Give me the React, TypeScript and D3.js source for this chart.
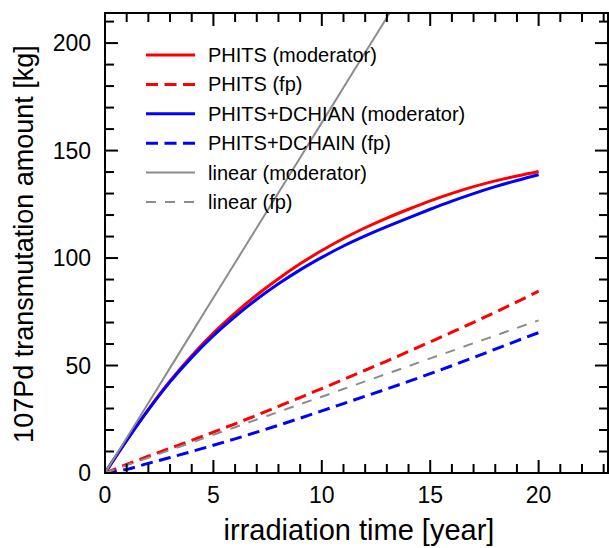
import React from "react";
import * as d3 from "d3";

const years = [0, 1, 2, 3, 4, 5, 6, 7, 8, 9, 10, 11, 12, 13, 14, 15, 16, 17, 18, 19, 20];
const phitsModerator = [0, 15.2, 29.6, 42.8, 54.6, 65.1, 74.4, 82.8, 90.4, 97.3, 103.5, 109.1, 114.1, 118.6, 122.7, 126.6, 130.1, 133.2, 135.9, 138.2, 140.3];
const phitsFp = [0, 4, 7.8, 11.5, 15.2, 19, 22.9, 26.9, 31, 35.1, 39.3, 43.5, 47.8, 52.1, 56.5, 61, 65.5, 70.1, 74.8, 79.6, 84.6];
const dchainModerator = [0, 15.2, 29.4, 42.4, 53.8, 63.9, 72.8, 80.8, 88.0, 94.5, 100.3, 105.6, 110.3, 114.6, 118.7, 122.7, 126.5, 130.0, 133.2, 136.1, 138.8];
const dchainFp = [0, 1.7, 4.5, 7.2, 10, 12.9, 15.9, 19, 22.2, 25.5, 28.9, 32.3, 35.7, 39.1, 42.6, 46.2, 49.9, 53.7, 57.6, 61.5, 65.3];
const linearModeratorYears = [0, 1, 2, 3, 4, 5, 6, 7, 8, 9, 10, 11, 12, 13, 14];
const linearModerator = [0, 16.3, 32.6, 48.9, 65.2, 81.5, 97.8, 114.1, 130.4, 146.7, 163, 179.3, 195.6, 211.9, 228.2];
const linearFp = [0, 3.6, 7.1, 10.7, 14.2, 17.8, 21.3, 24.9, 28.4, 32.0, 35.5, 39.1, 42.6, 46.2, 49.7, 53.3, 56.8, 60.4, 63.9, 67.5, 71.0];

const xTickLabels = ["0", "5", "10", "15", "20"];
const xMajorTicks = [0, 5, 10, 15, 20];
const yTickLabels = ["0", "50", "100", "150", "200"];
const yMajorTicks = [0, 50, 100, 150, 200];
const legendLabels = [
  "PHITS (moderator)",
  "PHITS (fp)",
  "PHITS+DCHIAN (moderator)",
  "PHITS+DCHAIN (fp)",
  "linear (moderator)",
  "linear (fp)",
];

const W = 609;
const H = 548;
const left = 105;
const right = 608;
const top = 13;
const bottom = 473;
const FONT = "'Liberation Sans', Arial, Helvetica, sans-serif";

export default function App() {
  const x = d3.scaleLinear().domain([0, 23.2]).range([left, right]);
  const y = d3.scaleLinear().domain([0, 214]).range([bottom, top]);

  const series = [
    { label: legendLabels[0], xs: years, ys: phitsModerator, color: "#ff0000", width: 3, dash: "" },
    { label: legendLabels[1], xs: years, ys: phitsFp, color: "#ff0000", width: 3, dash: "12 6.5" },
    { label: legendLabels[2], xs: years, ys: dchainModerator, color: "#0000ff", width: 3, dash: "" },
    { label: legendLabels[3], xs: years, ys: dchainFp, color: "#0000ff", width: 3, dash: "12 6.5" },
    { label: legendLabels[4], xs: linearModeratorYears, ys: linearModerator, color: "#8c8c8c", width: 2, dash: "" },
    { label: legendLabels[5], xs: years, ys: linearFp, color: "#8c8c8c", width: 2, dash: "10 9" },
  ];

  const line = d3
    .line<[number, number]>()
    .x((d) => x(d[0]))
    .y((d) => y(d[1]))
    .curve(d3.curveMonotoneX);

  const xMinor = d3.range(0, 24, 1);
  const yMinor = d3.range(0, 214, 10);
  const majLen = 13;
  const minLen = 9;

  return (
    <svg
      width={W}
      height={H}
      viewBox={`0 0 ${W} ${H}`}
      style={{ position: "absolute", left: 0, top: 0, background: "#fff" }}
      fontFamily={FONT}
    >
      <defs>
        <clipPath id="plotclip">
          <rect x={left} y={top} width={right - left} height={bottom - top} />
        </clipPath>
      </defs>
      <rect x={0} y={0} width={W} height={H} fill="#fff" />

      <g clipPath="url(#plotclip)">
        {series.map((s, i) => (
          <path
            key={i}
            d={line(s.xs.map((t, j) => [t, s.ys[j]] as [number, number])) || ""}
            fill="none"
            stroke={s.color}
            strokeWidth={s.width}
            strokeDasharray={s.dash || undefined}
            strokeLinejoin="round"
          />
        ))}
      </g>

      {/* ticks */}
      <g stroke="#000" strokeWidth={2}>
        {xMinor.map((t) => {
          const len = xMajorTicks.includes(t) ? majLen : minLen;
          return (
            <g key={"x" + t}>
              <line x1={x(t)} x2={x(t)} y1={bottom} y2={bottom - len} />
              <line x1={x(t)} x2={x(t)} y1={top} y2={top + len} />
            </g>
          );
        })}
        {yMinor.map((v) => {
          const len = yMajorTicks.includes(v) ? majLen : minLen;
          return (
            <g key={"y" + v}>
              <line x1={left} x2={left + len} y1={y(v)} y2={y(v)} />
              <line x1={right} x2={right - len} y1={y(v)} y2={y(v)} />
            </g>
          );
        })}
      </g>

      {/* frame */}
      <rect
        x={left}
        y={top}
        width={right - left}
        height={bottom - top}
        fill="none"
        stroke="#000"
        strokeWidth={2}
      />

      {/* tick labels */}
      <g fontSize={23} fill="#000">
        {xMajorTicks.map((t, i) => (
          <text key={"xl" + t} x={x(t)} y={503} textAnchor="middle">
            {xTickLabels[i]}
          </text>
        ))}
        {yMajorTicks.map((v, i) => (
          <text key={"yl" + v} x={91} y={y(v) + 8} textAnchor="end">
            {yTickLabels[i]}
          </text>
        ))}
      </g>

      {/* axis titles */}
      <text x={359} y={540} fontSize={29} textAnchor="middle" fill="#000">
        irradiation time [year]
      </text>
      <text
        transform={`translate(33, 244) rotate(-90)`}
        fontSize={27}
        textAnchor="middle"
        fill="#000"
      >
        107Pd transmutation amount [kg]
      </text>

      {/* legend */}
      <g>
        {series.map((s, i) => {
          const ly = 55 + i * 29.4;
          return (
            <g key={"lg" + i}>
              <line
                x1={146}
                x2={195}
                y1={ly}
                y2={ly}
                stroke={s.color}
                strokeWidth={s.width}
                strokeDasharray={s.dash || undefined}
              />
              <text x={208} y={ly + 7} fontSize={20} fill="#000">
                {s.label}
              </text>
            </g>
          );
        })}
      </g>
    </svg>
  );
}
